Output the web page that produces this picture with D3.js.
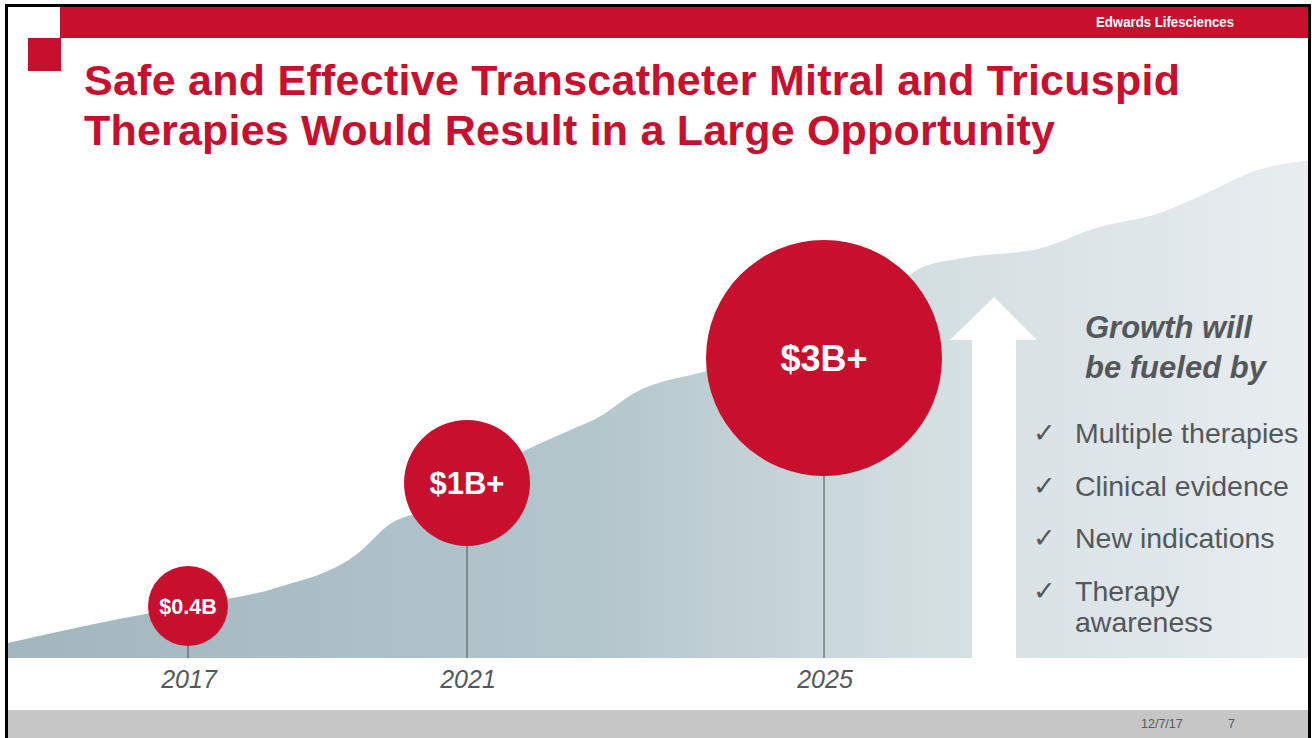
<!DOCTYPE html>
<html>
<head>
<meta charset="utf-8">
<script src="https://cdn.jsdelivr.net/npm/d3@7"></script>
<style>
  body { margin: 0; background: #fff; }
  svg { display: block; font-family: Arial, "Liberation Sans", sans-serif; }
</style>
</head>
<body>
<div id="chart"></div>
<script>
// Données
var years = [2017, 2021, 2025];
var values = [0.4, 1, 3];
var valueLabels = ["$0.4B", "$1B+", "$3B+"];
var drivers = ["Multiple therapies", "Clinical evidence", "New indications", "Therapy|awareness"];

// silhouette du fond (position en %, hauteur en %)
var bgX = [0, 7, 14, 20.6, 26.8, 29.5, 32, 35, 39, 43, 45.6, 48.2, 53.9, 60, 66.6, 70.2, 73.5, 79.5, 83.7, 88.6, 92.3, 96, 100];
var bgY = [3, 7, 10.5, 14, 20.7, 27, 29.5, 34, 40.5, 45.3, 48.4, 53, 57.5, 62, 70.5, 78, 80, 82, 86, 89, 93.1, 97.5, 99.5];

var W = 1312, H = 738;
var red = "#c8102e", grey = "#54585a";

var svg = d3.select("#chart")
  .append("svg")
    .attr("width", W)
    .attr("height", H);

var defs = svg.append("defs");
var grad = defs.append("linearGradient").attr("id", "bg").attr("x1", 0).attr("x2", 1).attr("y1", 0).attr("y2", 0);
grad.append("stop").attr("offset", "0%").attr("stop-color", "#a2b6be");
grad.append("stop").attr("offset", "45%").attr("stop-color", "#b3c6cc");
grad.append("stop").attr("offset", "70%").attr("stop-color", "#d3dee1");
grad.append("stop").attr("offset", "100%").attr("stop-color", "#e8edf0");

// cadre
svg.append("rect").attr("x", 8).attr("y", 7).attr("width", 1300).attr("height", 731).attr("fill", "#fff");

// fond en forme de montagne
var bx = d3.scaleLinear().domain([0, 100]).range([8, 1308]);
var by = d3.scaleLinear().domain([0, 100]).range([658, 158]);
var bg = bgX.map(function(d, i) { return {x: d, y: bgY[i]}; });
svg.append("path")
  .datum(bg)
  .attr("fill", "url(#bg)")
  .attr("d", d3.area()
    .x(function(d) { return bx(d.x); })
    .y0(by(0))
    .y1(function(d) { return by(d.y); })
    .curve(d3.curveMonotoneX));

// flèche
var ax = 994, atop = 297;
svg.append("path")
  .attr("fill", "#fff")
  .attr("d", "M" + ax + "," + atop + " L1037,340 L1016,340 L1016,660 L972,660 L972,340 L950,340 Z");

// bandeau rouge + carré
svg.append("rect").attr("x", 60).attr("y", 7).attr("width", 1248).attr("height", 31).attr("fill", red);
svg.append("rect").attr("x", 28).attr("y", 38).attr("width", 33).attr("height", 33).attr("fill", red);
svg.append("text").attr("x", 1096).attr("y", 27)
  .attr("fill", "#fff").style("font-weight", "bold").style("font-size", "15px")
  .attr("textLength", 138).attr("lengthAdjust", "spacingAndGlyphs")
  .text("Edwards Lifesciences");

// titre
var title = svg.append("text").attr("fill", red).style("font-weight", "bold").style("font-size", "43px");
title.append("tspan").attr("x", 84).attr("y", 95).attr("textLength", 1096).text("Safe and Effective Transcatheter Mitral and Tricuspid");
title.append("tspan").attr("x", 84).attr("y", 145).attr("textLength", 971).text("Therapies Would Result in a Large Opportunity");

// pied de page
svg.append("rect").attr("x", 8).attr("y", 710).attr("width", 1300).attr("height", 28).attr("fill", "#c6c6c6");
svg.append("text").attr("x", 1141).attr("y", 728).attr("fill", "#595959").style("font-size", "12.5px").text("12/7/17");
svg.append("text").attr("x", 1228).attr("y", 728).attr("fill", "#595959").style("font-size", "12.5px").text("7");

// échelles
var x = d3.scaleLinear().domain(years).range([188, 467, 824]);
var y = d3.scaleLog().domain(values).range([606, 483, 358]);
var r = d3.scaleSqrt().domain([0].concat(values)).range([0, 40, 63, 118]);
var fs = d3.scaleLinear().domain(values).range([21.5, 31, 36]);
var base = 658;

var data = years.map(function(d, i) { return {year: d, v: values[i], label: valueLabels[i]}; });

var g = svg.append("g");
g.selectAll(".stem").data(data).enter().append("line")
  .attr("x1", function(d) { return x(d.year); })
  .attr("x2", function(d) { return x(d.year); })
  .attr("y1", function(d) { return y(d.v); })
  .attr("y2", base)
  .attr("stroke", "#4a4f52").attr("stroke-width", 1);

g.selectAll(".bubble").data(data).enter().append("circle")
  .attr("cx", function(d) { return x(d.year); })
  .attr("cy", function(d) { return y(d.v); })
  .attr("r", function(d) { return r(d.v); })
  .attr("fill", red);

g.selectAll(".val").data(data).enter().append("text")
  .attr("x", function(d) { return x(d.year); })
  .attr("y", function(d) { return y(d.v); })
  .attr("dy", "0.36em")
  .attr("text-anchor", "middle")
  .attr("fill", "#fff")
  .style("font-weight", "bold")
  .style("font-size", function(d) { return fs(d.v) + "px"; })
  .text(function(d) { return d.label; });

g.selectAll(".yr").data(data).enter().append("text")
  .attr("x", function(d) { return x(d.year) + 1; })
  .attr("y", 688)
  .attr("text-anchor", "middle")
  .attr("fill", grey)
  .style("font-style", "italic")
  .style("font-size", "25px")
  .text(function(d) { return d.year; });

// texte de droite
var head = svg.append("text").attr("fill", grey).style("font-weight", "bold").style("font-style", "italic").style("font-size", "31px");
head.append("tspan").attr("x", 1085).attr("y", 338).text("Growth will");
head.append("tspan").attr("x", 1085).attr("y", 378).text("be fueled by");

var list = svg.append("g");
drivers.forEach(function(d, i) {
  var yy = 443 + i * 52.7;
  list.append("text").attr("x", 1033).attr("y", yy - 1).attr("fill", grey)
    .style("font-size", "27px").style("font-family", "'DejaVu Sans', sans-serif").text("\u2713");
  var t = list.append("text").attr("fill", grey).style("font-size", "28.5px");
  d.split("|").forEach(function(s, j) {
    t.append("tspan").attr("x", 1075).attr("y", yy + j * 31).text(s);
  });
});

// bordure noire
svg.append("path").attr("fill", "none").attr("stroke", "#000").attr("stroke-width", 3)
  .attr("d", "M6.5,738 L6.5,5.5 L1309.5,5.5 L1309.5,738");
</script>
</body>
</html>
